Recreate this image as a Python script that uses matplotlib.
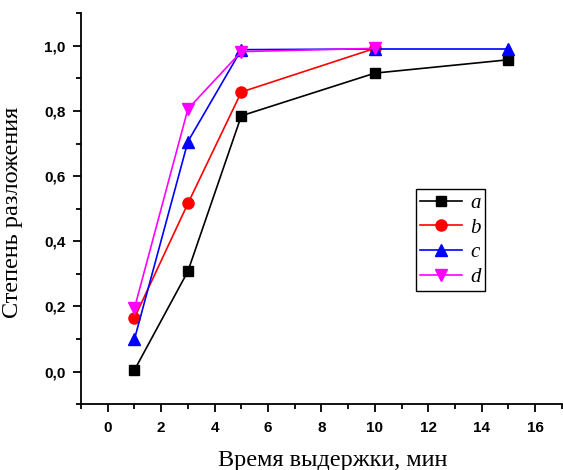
import matplotlib.pyplot as plt
from matplotlib.ticker import MultipleLocator, FuncFormatter

# data
t_a = [1, 3, 5, 10, 15]
deg_a = [0.005, 0.308, 0.785, 0.916, 0.957]
t_b = [1, 3, 5, 10]
deg_b = [0.165, 0.516, 0.858, 0.992]
t_c = [1, 3, 5, 10, 15]
deg_c = [0.100, 0.706, 0.988, 0.990, 0.990]
t_d = [1, 3, 5, 10]
deg_d = [0.195, 0.806, 0.982, 0.992]

fig = plt.figure(figsize=(5.63, 4.70), dpi=100)
ax = fig.add_axes([0.144, 0.140, 0.854, 0.832])

ax.plot(t_a, deg_a, color='black', marker='s', ms=7, lw=1.2, label='a')
ax.plot(t_b, deg_b, color='red', marker='o', ms=8, lw=1.2, label='b')
ax.plot(t_c, deg_c, color='blue', marker='^', ms=8.5, lw=1.2, label='c')
ax.plot(t_d, deg_d, color='magenta', marker='v', ms=8.5, lw=1.2, label='d')

ax.set_xlim(-1, 17)
ax.set_ylim(-0.1, 1.1)
ax.xaxis.set_major_locator(MultipleLocator(2))
ax.xaxis.set_minor_locator(MultipleLocator(1))
ax.yaxis.set_major_locator(MultipleLocator(0.2))
ax.yaxis.set_minor_locator(MultipleLocator(0.1))
ax.yaxis.set_major_formatter(FuncFormatter(lambda v, p: f'{v:.1f}'.replace('.', ',').replace('-0,0', '0,0')))

for s in ['top', 'right']:
    ax.spines[s].set_visible(False)
for s in ['left', 'bottom']:
    ax.spines[s].set_linewidth(1.3)

ax.tick_params(which='major', direction='out', length=6, width=1.3)
ax.tick_params(which='minor', direction='out', length=3.5, width=1.3)
for lab in ax.get_xticklabels() + ax.get_yticklabels():
    lab.set_fontfamily('Liberation Sans')
    lab.set_fontweight('bold')
    lab.set_fontsize(11)
ax.tick_params(axis='x', pad=6)
ax.tick_params(axis='y', pad=5)

ax.set_xlabel('Время выдержки, мин', family='Liberation Serif', fontsize=17.5)
ax.set_ylabel('Степень разложения', family='Liberation Serif', fontsize=17.5)
ax.xaxis.set_label_coords(0.523, -0.118)
ax.yaxis.set_label_coords(-0.12, 0.49)

leg = ax.legend(loc='upper left', bbox_to_anchor=(0.696, 0.55), fancybox=False,
                edgecolor='black', framealpha=1, handlelength=2.0, borderpad=0.2,
                labelspacing=0.25, handletextpad=0.4, borderaxespad=0,
                prop={'family': 'Liberation Serif', 'style': 'italic', 'size': 15})
leg.get_frame().set_linewidth(1.0)

fig.savefig('out.png', dpi=100)
